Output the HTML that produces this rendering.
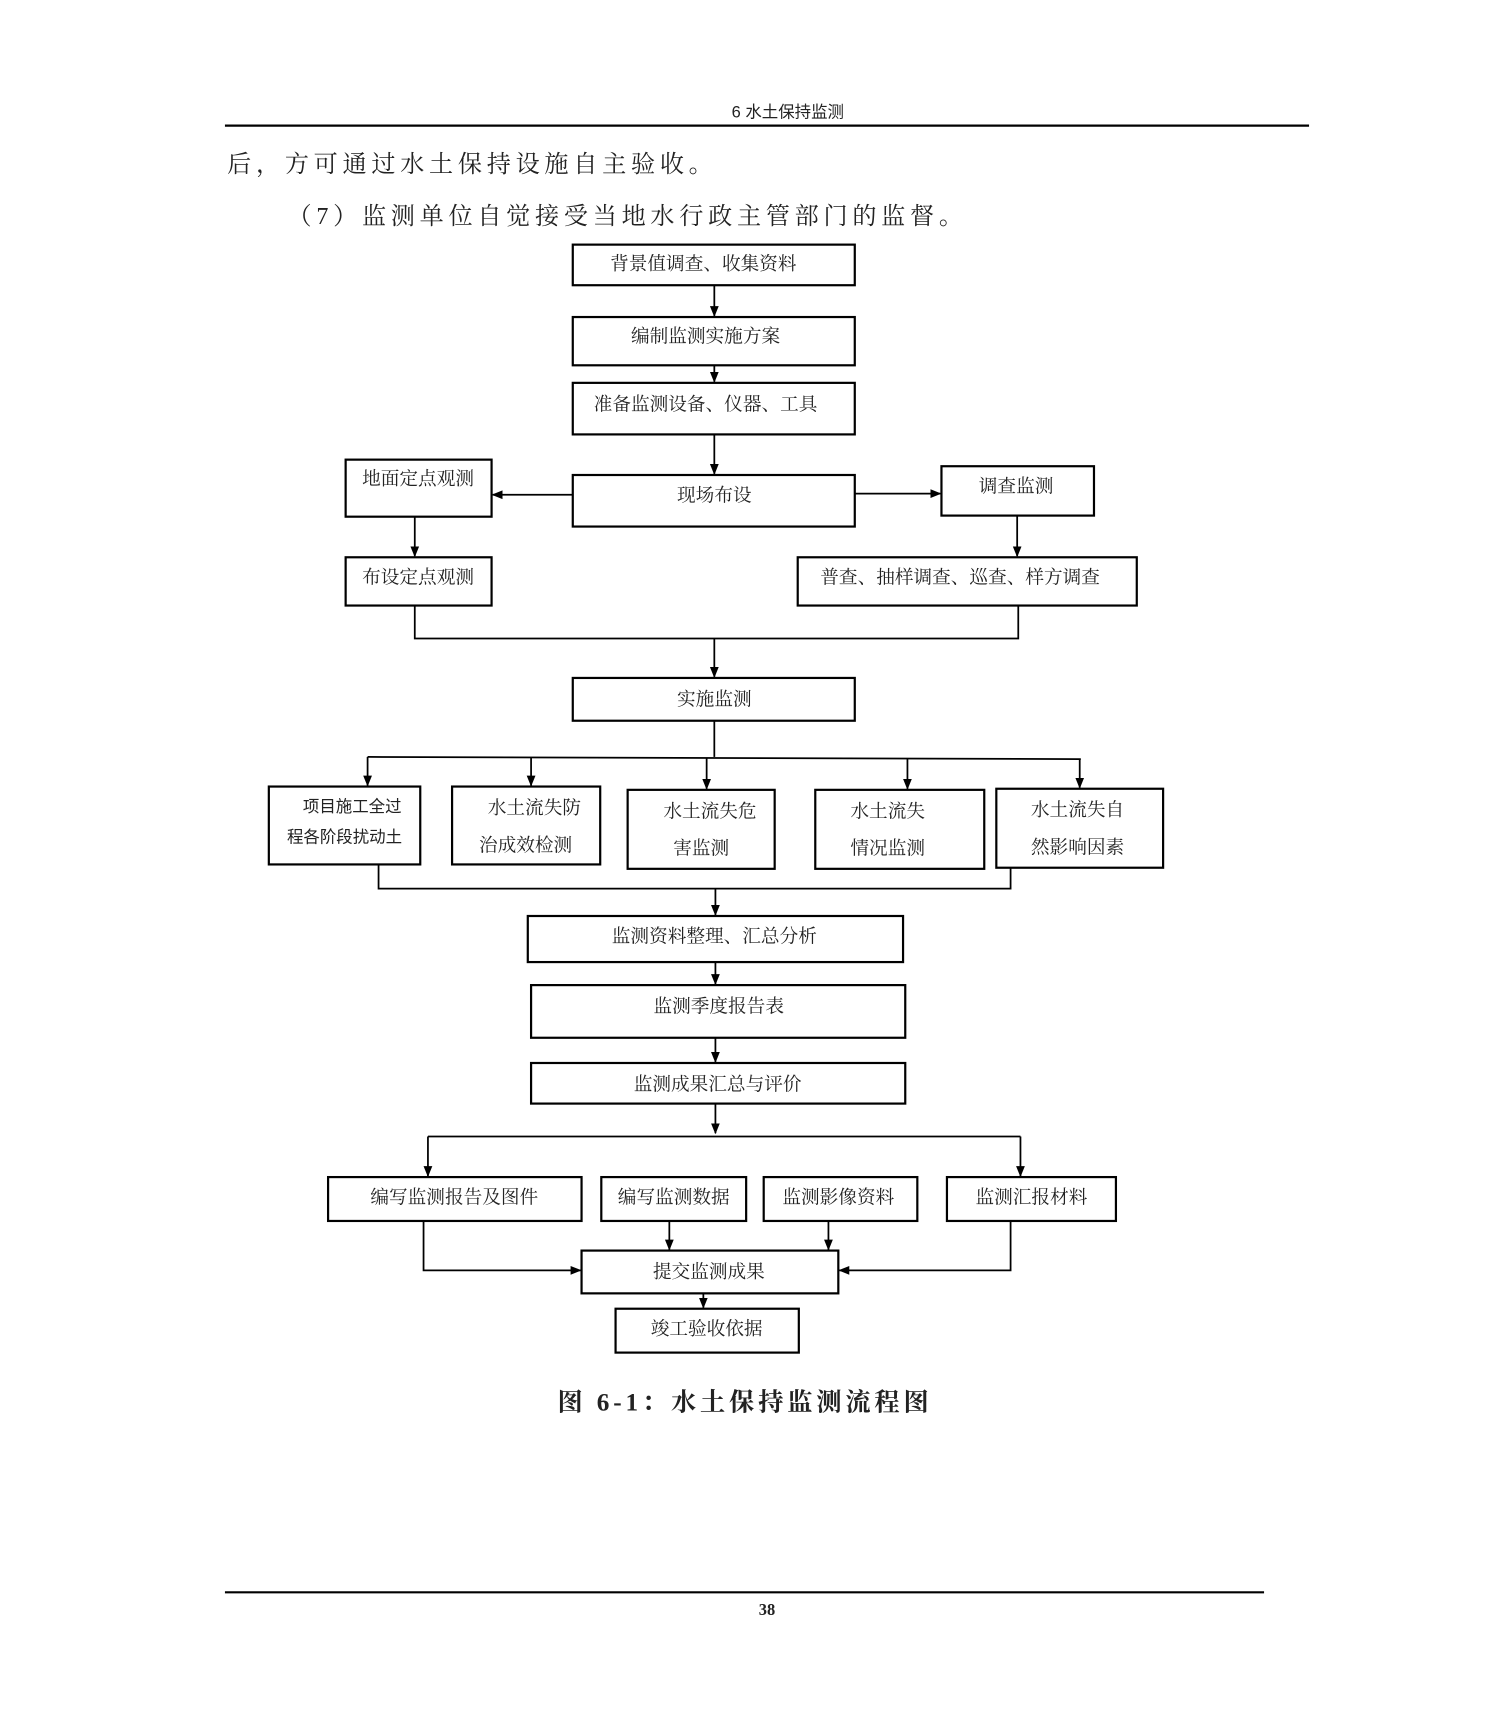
<!DOCTYPE html>
<html><head><meta charset="utf-8"><style>
html,body{margin:0;padding:0;background:#fff;}
svg{display:block;}
text{font-family:"Liberation Serif","Noto Serif CJK SC","Noto Sans CJK SC",serif;fill:#222;}
</style></head><body>
<svg width="1489" height="1719" viewBox="0 0 1357 1567" preserveAspectRatio="none" xmlns="http://www.w3.org/2000/svg">
<defs><marker id="a" markerWidth="10" markerHeight="10" refX="9" refY="5" orient="auto" markerUnits="userSpaceOnUse"><path d="M0,1 L10,5 L0,9 z" fill="#000"/></marker></defs>
<text x="718" y="107" font-size="15" text-anchor="middle" style="font-family:'Liberation Sans','Noto Sans CJK SC',sans-serif">6 水土保持监测</text>
<line x1="205" y1="114.5" x2="1193" y2="114.5" stroke="#000" stroke-width="2"/>
<text x="207" y="157" font-size="22" letter-spacing="4.3">后，方可通过水土保持设施自主验收。</text>
<text x="262" y="204" font-size="22" letter-spacing="4.3">（7）监测单位自觉接受当地水行政主管部门的监督。</text>
<g fill="none" stroke="#000" stroke-width="2">
<rect x="522" y="223" width="257" height="37"/>
<rect x="522" y="289" width="257" height="44"/>
<rect x="522" y="349" width="257" height="47"/>
<rect x="522" y="433" width="257" height="47"/>
<rect x="315" y="419" width="133" height="52"/>
<rect x="858" y="425" width="139" height="45"/>
<rect x="315" y="508" width="133" height="44"/>
<rect x="727" y="508" width="309" height="44"/>
<rect x="522" y="618" width="257" height="39"/>
<rect x="245" y="717" width="138" height="71"/>
<rect x="412" y="717" width="135" height="71"/>
<rect x="572" y="720" width="134" height="72"/>
<rect x="743" y="720" width="154" height="72"/>
<rect x="908" y="719" width="152" height="72"/>
<rect x="481" y="835" width="342" height="42"/>
<rect x="484" y="898" width="341" height="48"/>
<rect x="484" y="969" width="341" height="37"/>
<rect x="299" y="1073" width="231" height="40"/>
<rect x="548" y="1073" width="132" height="40"/>
<rect x="696" y="1073" width="140" height="40"/>
<rect x="863" y="1073" width="154" height="40"/>
<rect x="530" y="1140" width="234" height="39"/>
<rect x="561" y="1193" width="167" height="40"/>
</g>
<g fill="none" stroke="#000" stroke-width="1.6">
<line x1="651" y1="260" x2="651" y2="288" marker-end="url(#a)"/>
<line x1="651" y1="333" x2="651" y2="348" marker-end="url(#a)"/>
<line x1="651" y1="396" x2="651" y2="432" marker-end="url(#a)"/>
<line x1="522" y1="451" x2="449" y2="451" marker-end="url(#a)"/>
<line x1="779" y1="450" x2="857" y2="450" marker-end="url(#a)"/>
<line x1="378" y1="471" x2="378" y2="507" marker-end="url(#a)"/>
<line x1="927" y1="470" x2="927" y2="507" marker-end="url(#a)"/>
<polyline points="378,552 378,582 928,582 928,552"/>
<line x1="651" y1="582" x2="651" y2="617" marker-end="url(#a)"/>
<line x1="651" y1="657" x2="651" y2="690"/>
<line x1="335" y1="690" x2="985" y2="692"/>
<line x1="335" y1="690" x2="335" y2="716" marker-end="url(#a)"/>
<line x1="484" y1="691" x2="484" y2="716" marker-end="url(#a)"/>
<line x1="644" y1="691" x2="644" y2="719" marker-end="url(#a)"/>
<line x1="827" y1="692" x2="827" y2="719" marker-end="url(#a)"/>
<line x1="984" y1="692" x2="984" y2="718" marker-end="url(#a)"/>
<polyline points="345,788 345,810 921,810 921,791"/>
<line x1="652" y1="810" x2="652" y2="834" marker-end="url(#a)"/>
<line x1="652" y1="877" x2="652" y2="897" marker-end="url(#a)"/>
<line x1="652" y1="946" x2="652" y2="968" marker-end="url(#a)"/>
<line x1="652" y1="1006" x2="652" y2="1033" marker-end="url(#a)"/>
<line x1="390" y1="1036" x2="930" y2="1036"/>
<line x1="390" y1="1036" x2="390" y2="1072" marker-end="url(#a)"/>
<line x1="930" y1="1036" x2="930" y2="1072" marker-end="url(#a)"/>
<line x1="610" y1="1113" x2="610" y2="1139" marker-end="url(#a)"/>
<line x1="755" y1="1113" x2="755" y2="1139" marker-end="url(#a)"/>
<polyline points="386,1113 386,1158 529,1158" marker-end="url(#a)"/>
<polyline points="921,1113 921,1158 765,1158" marker-end="url(#a)"/>
<line x1="641" y1="1179" x2="641" y2="1192" marker-end="url(#a)"/>
</g>
<g font-size="17" text-anchor="middle">
<text x="641" y="246">背景值调查、收集资料</text>
<text x="643" y="312">编制监测实施方案</text>
<text x="643" y="374">准备监测设备、仪器、工具</text>
<text x="651" y="457">现场布设</text>
<text x="381" y="442">地面定点观测</text>
<text x="926" y="449">调查监测</text>
<text x="381" y="532">布设定点观测</text>
<text x="875" y="532">普查、抽样调查、巡查、样方调查</text>
<text x="651" y="643">实施监测</text>
<text x="321" y="740" font-size="15" style="font-family:'Liberation Sans','Noto Sans CJK SC',sans-serif">项目施工全过</text>
<text x="314" y="768" font-size="15" style="font-family:'Liberation Sans','Noto Sans CJK SC',sans-serif">程各阶段扰动土</text>
<text x="487" y="742">水土流失防</text>
<text x="479" y="776">治成效检测</text>
<text x="647" y="745">水土流失危</text>
<text x="639" y="779">害监测</text>
<text x="809" y="745">水土流失</text>
<text x="809" y="779">情况监测</text>
<text x="982" y="744">水土流失自</text>
<text x="982" y="778">然影响因素</text>
<text x="651" y="859">监测资料整理、汇总分析</text>
<text x="655" y="923">监测季度报告表</text>
<text x="654" y="994">监测成果汇总与评价</text>
<text x="414" y="1097">编写监测报告及图件</text>
<text x="614" y="1097">编写监测数据</text>
<text x="764" y="1097">监测影像资料</text>
<text x="940" y="1097">监测汇报材料</text>
<text x="646" y="1165">提交监测成果</text>
<text x="644" y="1217">竣工验收依据</text>
</g>
<text x="679" y="1286" font-size="23" font-weight="bold" text-anchor="middle" letter-spacing="3.5">图 6-1：水土保持监测流程图</text>
<line x1="205" y1="1451.5" x2="1152" y2="1451.5" stroke="#000" stroke-width="2"/>
<text x="699" y="1472" font-size="15" font-weight="bold" text-anchor="middle">38</text>
</svg>
</body></html>
